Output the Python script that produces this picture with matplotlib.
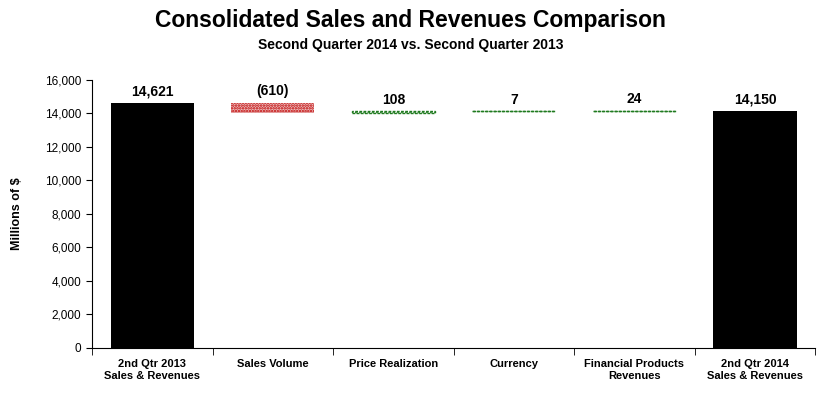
import matplotlib
matplotlib.use('Agg')
from matplotlib import pyplot as plt
import numpy as np

plt.rcParams['font.family'] = ['Liberation Sans Narrow', 'Liberation Sans', 'DejaVu Sans']
plt.rcParams['hatch.linewidth'] = 1.2

categories = ['2nd Qtr 2013\nSales & Revenues', 'Sales Volume', 'Price Realization',
              'Currency', 'Financial Products\nRevenues', '2nd Qtr 2014\nSales & Revenues']
start_total = 14621
changes = [-610, 108, 7, 24]
end_total = 14150
value_labels = ['14,621', '(610)', '108', '7', '24', '14,150']

fig = plt.figure(figsize=(8.21, 3.94), dpi=100)
ax = fig.add_axes([0.112, 0.117, 0.881, 0.68])

index = np.arange(len(categories))
bar_width = 0.69

# totals
ax.bar([0, 5], [start_total, end_total], bar_width, color='black')

# changes, floating
level = start_total
tops = [start_total]
for i, c in enumerate(changes):
    pos = i + 1
    bottom = level + min(c, 0)
    if c < 0:
        ax.bar(pos, abs(c), bar_width, bottom=bottom, facecolor='#eab8b8',
               edgecolor='#c00000', hatch='......', linewidth=0)
    else:
        ax.bar(pos, c, bar_width, bottom=bottom, facecolor='white',
               edgecolor='#1f7a1f', hatch='....', linewidth=1.0, linestyle=(0, (2, 1)))
    level += c
    tops.append(max(level, level - c))
tops.append(end_total)

for i, t in enumerate(tops):
    ax.text(index[i], t + 280, value_labels[i], ha='center', va='bottom',
            fontsize=10, fontweight='bold')

ax.set_xlim(-0.5, 5.5)
ax.set_ylim(0, 16000)
ax.set_yticks(np.arange(0, 16001, 2000))
ax.set_yticklabels(['{:,}'.format(v) for v in range(0, 16001, 2000)], fontsize=8.5)
ax.set_xticks(index)
ax.set_xticklabels(categories, fontsize=8, fontweight='bold')
ax.set_xticks(np.arange(-0.5, 6, 1), minor=True)
ax.tick_params(axis='x', which='major', length=0, pad=8)
ax.tick_params(axis='x', which='minor', length=5, direction='out')
ax.tick_params(axis='y', length=4, direction='out')
ax.spines['top'].set_visible(False)
ax.spines['right'].set_visible(False)
ax.set_ylabel('Millions of $', fontsize=9, fontweight='bold', labelpad=16)

fig.text(0.5, 0.948, 'Consolidated Sales and Revenues Comparison', ha='center', va='center',
         fontsize=16.5, fontweight='bold')
fig.text(0.5, 0.885, 'Second Quarter 2014 vs. Second Quarter 2013', ha='center', va='center',
         fontsize=10, fontweight='bold')

plt.savefig('out.png')
